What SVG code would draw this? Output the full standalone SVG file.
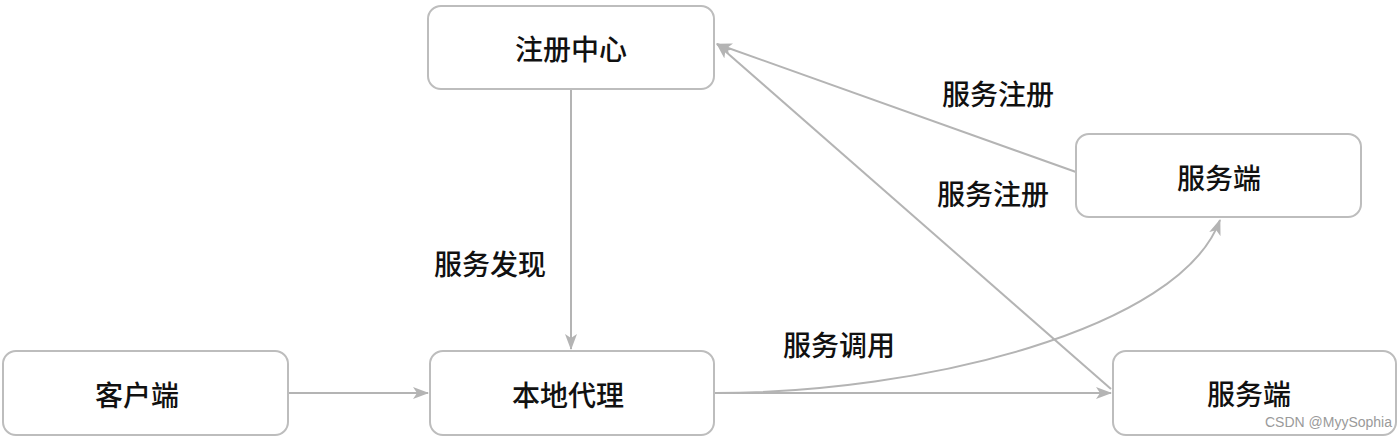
<svg xmlns="http://www.w3.org/2000/svg" width="1400" height="440" viewBox="0 0 1400 440">
<style>
.box{fill:#fff;stroke:#bdbdbd;stroke-width:2}
.t{font-family:"Noto Sans CJK SC","Noto Sans",sans-serif;font-size:28px;font-weight:500;fill:#111;text-anchor:middle;dominant-baseline:central}
.c{fill:none;stroke:#b4b4b4;stroke-width:2}
.wm{font-family:"Liberation Sans",Arial,sans-serif;font-size:14px;fill:#9a9a9a;text-anchor:end}
</style>
<defs>
<marker id="ah" viewBox="0 0 16 12" refX="15" refY="6" markerWidth="16" markerHeight="12" markerUnits="userSpaceOnUse" orient="auto">
<path d="M0,0 L16,6 L0,12 L4,6 Z" fill="#b4b4b4"/>
</marker>
</defs>
<rect width="1400" height="440" fill="#fff"/>
<g id="connectors">
<path class="c" d="M571,90 L571,349" marker-end="url(#ah)"/>
<path class="c" d="M289,393 L428,393" marker-end="url(#ah)"/>
<path class="c" d="M715,393 L1111,393" marker-end="url(#ah)"/>
<path class="c" d="M715,393 C920,393 1180,330 1220,220" marker-end="url(#ah)"/>
<path class="c" d="M1111,389 L717,44" marker-end="url(#ah)"/>
<path class="c" d="M1076,172 L717,44" marker-end="url(#ah)"/>
<text class="t" x="490" y="263">服务发现</text>
<text class="t" x="998" y="93">服务注册</text>
<text class="t" x="993" y="193">服务注册</text>
<text class="t" x="839" y="344">服务调用</text>
</g>
<g id="registry"><rect class="box" x="428" y="6" width="286" height="83" rx="13"/><text class="t" x="571" y="48">注册中心</text></g>
<g id="server-top"><rect class="box" x="1076" y="134" width="285" height="83" rx="13"/><text class="t" x="1219" y="177">服务端</text></g>
<g id="client"><rect class="box" x="3" y="351" width="285" height="84" rx="13"/><text class="t" x="137" y="394">客户端</text></g>
<g id="proxy"><rect class="box" x="430" y="351" width="284" height="84" rx="13"/><text class="t" x="568" y="394">本地代理</text></g>
<g id="server-bottom"><rect class="box" x="1113" y="351" width="283" height="84" rx="13"/><text class="t" x="1249" y="393">服务端</text></g>
<text class="wm" x="1392" y="427">CSDN @MyySophia</text>
</svg>
